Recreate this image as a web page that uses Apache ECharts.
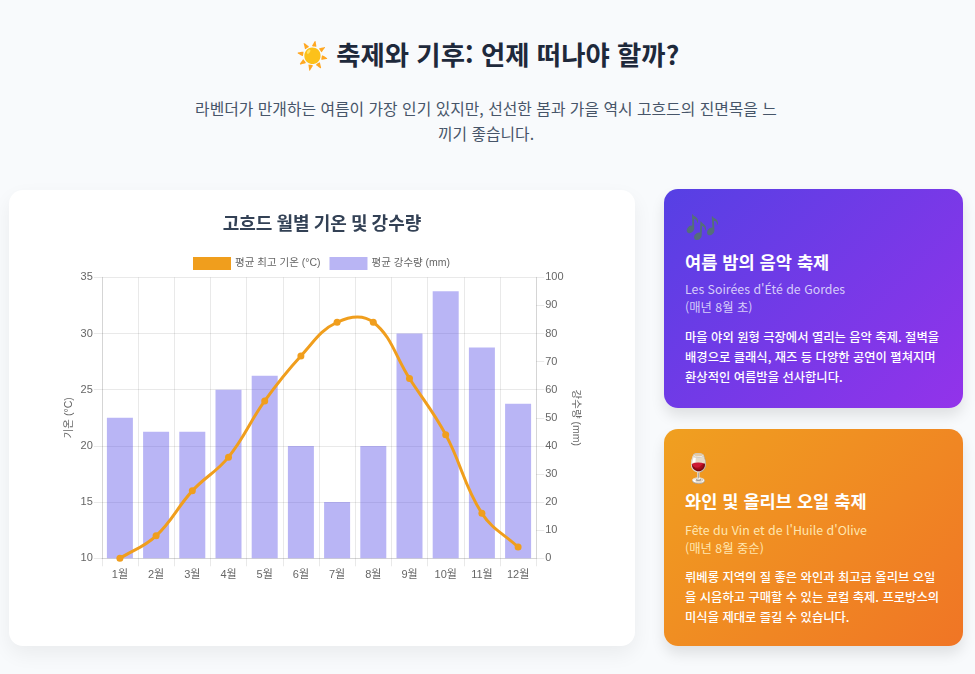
<!DOCTYPE html>
<html lang="ko"><head><meta charset="utf-8">
<script src="https://cdn.jsdelivr.net/npm/echarts@6/dist/echarts.min.js"></script>
<style>
html,body{margin:0;padding:0;width:975px;height:674px;overflow:hidden;background:#f8fafc;font-family:"Noto Sans CJK KR","Noto Sans",sans-serif;}
.abs{position:absolute}
h1{margin:0;left:0;width:975px;top:34px;text-align:center;font-size:26.4px;line-height:40px;font-weight:700;color:#1e293b}
.sub{left:191px;width:590px;top:96px;text-align:center;font-size:15.84px;line-height:25px;color:#475569}
#card{left:9px;top:190px;width:626px;height:456px;background:#fff;border-radius:14px;box-shadow:0 8px 20px rgba(0,0,0,.06)}
#chart{left:0;top:0;width:626px;height:456px}
.fest{left:664px;width:299px;border-radius:14px;color:#fff;box-shadow:0 8px 14px rgba(0,0,0,.10);box-sizing:border-box}
#f1{top:189px;height:219px;background:linear-gradient(135deg,#5640e4,#9333ea)}
#f2{top:429px;height:217px;background:linear-gradient(135deg,#f0a020,#f07525)}
.ic{position:absolute;left:21px;top:19px;font-size:28px;line-height:36px}
#f2 .ic{left:17px}
.fest h3{position:absolute;left:21px;top:60px;margin:0;font-size:17.6px;line-height:26px;font-weight:700;white-space:nowrap}
#f2 h3{top:59px}
.fest .o{position:absolute;left:21px;top:91px;font-size:12.35px;line-height:18px;white-space:nowrap}
#f2 .o{top:92px}
.fest .d{position:absolute;left:21px;top:138px;width:257px;font-size:12.3px;line-height:20px;font-weight:500}
#f1 .o{color:#d6ccfa}#f2 .o{color:#ffe6b0}
</style></head><body>
<h1 class="abs">☀️ 축제와 기후: 언제 떠나야 할까?</h1>
<div class="abs sub">라벤더가 만개하는 여름이 가장 인기 있지만, 선선한 봄과 가을 역시 고흐드의 진면목을 느끼기 좋습니다.</div>
<div class="abs" id="card"><div class="abs" id="chart"></div></div>
<div class="abs fest" id="f1"><div class="ic">🎶</div><h3>여름 밤의 음악 축제</h3><div class="o">Les Soirées d'Été de Gordes<br>(매년 8월 초)</div><div class="d">마을 야외 원형 극장에서 열리는 음악 축제. 절벽을 배경으로 클래식, 재즈 등 다양한 공연이 펼쳐지며 환상적인 여름밤을 선사합니다.</div></div>
<div class="abs fest" id="f2"><div class="ic">🍷</div><h3>와인 및 올리브 오일 축제</h3><div class="o">Fête du Vin et de l'Huile d'Olive<br>(매년 8월 중순)</div><div class="d">뤼베롱 지역의 질 좋은 와인과 최고급 올리브 오일을 시음하고 구매할 수 있는 로컬 축제. 프로방스의 미식을 제대로 즐길 수 있습니다.</div></div>
<script>
const months=['1월','2월','3월','4월','5월','6월','7월','8월','9월','10월','11월','12월'];
const tempHigh=[10,12,16,19,24,28,31,31,26,21,14,11];
const rainfall=[50,45,45,60,65,40,20,40,80,95,75,55];
const tempName='평균 최고 기온 (°C)';
const rainName='평균 강수량 (mm)';
const gridC='rgba(0,0,0,0.085)';
const orange='#f09e1d';
const FF='"Liberation Sans","Noto Sans CJK KR",sans-serif';
const TENSION=0.4;
// Segment i -> i+1 of a tension spline, positioned through the chart's own axes.
function renderSegment(params,api){
 const i=params.dataIndex;
 if(i>=tempHigh.length-1) return null;
 const p=k=>api.coord([Math.max(0,Math.min(tempHigh.length-1,k)),tempHigh[Math.max(0,Math.min(tempHigh.length-1,k))]]);
 const ctrl=k=>{
  const a=p(k-1),b=p(k),c=p(k+1);
  const d1=Math.hypot(b[0]-a[0],b[1]-a[1]),d2=Math.hypot(c[0]-b[0],c[1]-b[1]);
  const s=d1+d2||1,f1=TENSION*d1/s,f2=TENSION*d2/s;
  return {prev:[b[0]-f1*(c[0]-a[0]),b[1]-f1*(c[1]-a[1])],next:[b[0]+f2*(c[0]-a[0]),b[1]+f2*(c[1]-a[1])]};
 };
 const s=p(i),e=p(i+1),c0=ctrl(i).next,c1=ctrl(i+1).prev;
 return {type:'bezierCurve',silent:true,
  shape:{x1:s[0],y1:s[1],x2:e[0],y2:e[1],cpx1:c0[0],cpy1:c0[1],cpx2:c1[0],cpy2:c1[1]},
  style:{stroke:orange,lineWidth:3,fill:null}};
}
const chart=echarts.init(document.getElementById('chart'),null,{renderer:'canvas'});
chart.setOption({
 animation:false,
 title:{text:'고흐드 월별 기온 및 강수량',left:'center',top:19,textStyle:{fontSize:18,fontWeight:700,color:'#334155',fontFamily:'"Noto Sans CJK KR",sans-serif'}},
 legend:{top:62,left:179,itemWidth:38,itemHeight:13,itemGap:9,textStyle:{fontSize:10.5,color:'#666',fontFamily:FF,padding:[0,0,0,-1]},
  data:[{name:tempName,icon:'rect',itemStyle:{color:orange}},{name:rainName,icon:'rect',itemStyle:{color:'#b9b5f4'}}]},
 grid:{left:92.8,top:87.3,right:98.8,height:281},
 xAxis:{type:'category',data:months,boundaryGap:true,
  axisLine:{lineStyle:{color:gridC}},axisTick:{show:true,length:8,alignWithLabel:false,lineStyle:{color:gridC}},
  splitLine:{show:true,lineStyle:{color:gridC}},
  axisLabel:{color:'#666',fontSize:11,margin:11,fontFamily:FF,interval:0}},
 yAxis:[
  {type:'value',min:10,max:35,interval:5,position:'left',name:'기온 (°C)',nameLocation:'middle',nameGap:27,nameMoveOverlap:false,nameRotate:90,
   nameTextStyle:{color:'#666',fontSize:10.5,fontFamily:FF},
   axisLine:{show:true,lineStyle:{color:gridC}},axisTick:{show:true,length:8,lineStyle:{color:gridC}},
   splitLine:{show:true,lineStyle:{color:gridC}},axisLabel:{color:'#666',fontSize:11,margin:9,fontFamily:FF}},
  {type:'value',min:0,max:100,interval:10,position:'right',name:'강수량 (mm)',nameLocation:'middle',nameGap:34,nameMoveOverlap:false,nameRotate:-90,
   nameTextStyle:{color:'#666',fontSize:10.5,fontFamily:FF},
   axisLine:{show:true,lineStyle:{color:gridC}},axisTick:{show:true,length:8,lineStyle:{color:gridC}},
   splitLine:{show:false},axisLabel:{color:'#666',fontSize:11,margin:9,fontFamily:FF}}
 ],
 series:[
  {name:rainName,type:'bar',yAxisIndex:1,data:rainfall,barWidth:26,z:2,itemStyle:{color:'rgba(79,70,229,0.4)'}},
  {name:tempName,type:'custom',yAxisIndex:0,data:tempHigh.map((v,i)=>[i,v]),encode:{x:0,y:1},clip:false,z:3,renderItem:renderSegment,itemStyle:{color:orange}},
  {name:tempName,type:'line',yAxisIndex:0,data:tempHigh,z:4,symbol:'circle',symbolSize:7,lineStyle:{opacity:0},itemStyle:{color:orange}}
 ]
});
</script></body></html>
